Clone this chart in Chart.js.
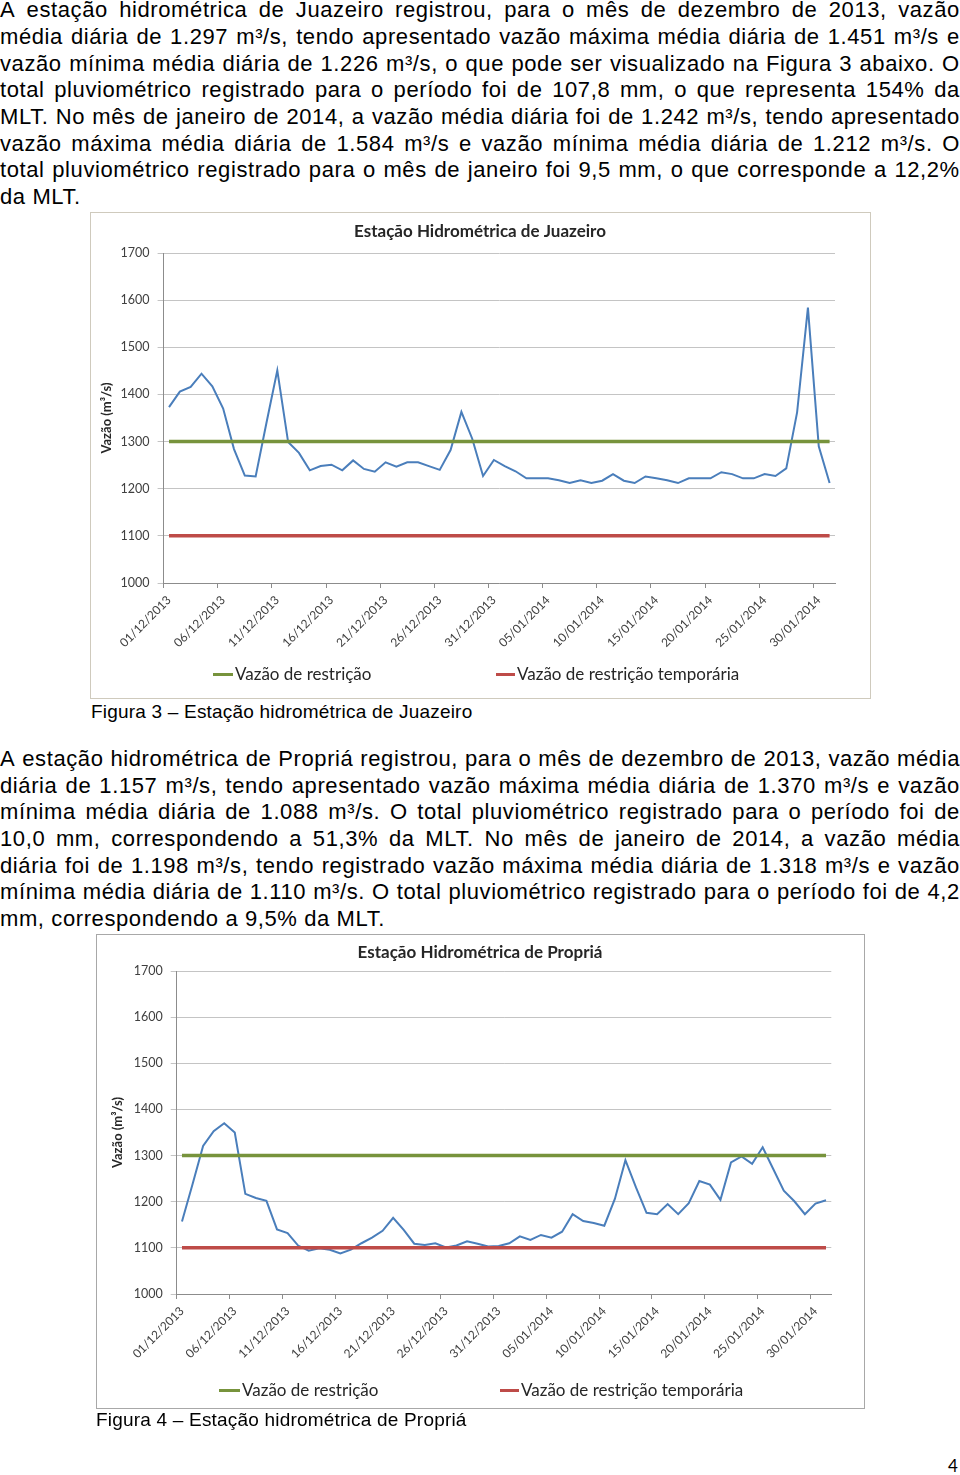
<!DOCTYPE html>
<html><head><meta charset="utf-8">
<script src="https://cdn.jsdelivr.net/npm/chart.js@4.4.1/dist/chart.umd.min.js"></script>
<style>
html,body{margin:0;padding:0;background:#fff;}
body{width:960px;height:1475px;position:relative;overflow:hidden;font-family:"Liberation Sans",Arial,sans-serif;color:#000;}
.para{position:absolute;left:0;width:960px;font-size:22px;letter-spacing:0.6px;line-height:26.7px;}
.ln{display:flex;justify-content:space-between;white-space:nowrap;height:26.7px;}
.ln.last{display:block;}
.cap{position:absolute;font-size:19px;letter-spacing:0.2px;line-height:22px;white-space:nowrap;}
.frame{position:absolute;box-sizing:border-box;pointer-events:none;}
canvas.ch{position:absolute;}
.leg{position:absolute;font-family:Lato,sans-serif;font-size:17px;line-height:20px;color:#262626;white-space:nowrap;}
.mk{position:absolute;height:3px;}
.pg{position:absolute;font-family:Lato,sans-serif;font-size:17px;line-height:17px;}
</style></head>
<body>
<div class="para" id="p1" style="top:-2.7px"></div>

<canvas class="ch" id="c1" width="780" height="486" style="left:90px;top:212px"></canvas>
<div class="frame" style="left:90px;top:212px;width:781px;height:487px;border:1px solid #cfcabd"></div>
<div class="mk" style="left:213px;top:673px;width:20px;background:#77933c"></div>
<div class="leg" style="left:235px;top:664px">Vazão de restrição</div>
<div class="mk" style="left:496px;top:673px;width:19px;background:#be4b48"></div>
<div class="leg" style="left:517px;top:664px">Vazão de restrição temporária</div>
<div class="cap" style="left:91px;top:701px">Figura 3 – Estação hidrométrica de Juazeiro</div>

<div class="para" id="p2" style="top:746px"></div>

<canvas class="ch" id="c2" width="768" height="474" style="left:96px;top:934px"></canvas>
<div class="frame" style="left:96px;top:934px;width:769px;height:475px;border:1px solid #a8a8a8"></div>
<div class="mk" style="left:219px;top:1389px;width:21px;background:#77933c"></div>
<div class="leg" style="left:242px;top:1380px">Vazão de restrição</div>
<div class="mk" style="left:500px;top:1389px;width:19px;background:#be4b48"></div>
<div class="leg" style="left:521px;top:1380px">Vazão de restrição temporária</div>
<div class="cap" style="left:96px;top:1409.4px">Figura 4 – Estação hidrométrica de Propriá</div>

<div class="pg" style="left:948px;top:1457px">4</div>

<script>
const paragrafo1 = [
  "A estação hidrométrica de Juazeiro registrou, para o mês de dezembro de 2013, vazão",
  "média diária de 1.297 m³/s, tendo apresentado vazão máxima média diária de 1.451 m³/s e",
  "vazão mínima média diária de 1.226 m³/s, o que pode ser visualizado na Figura 3 abaixo. O",
  "total pluviométrico registrado para o período foi de 107,8 mm, o que representa 154% da",
  "MLT. No mês de janeiro de 2014, a vazão média diária foi de 1.242 m³/s, tendo apresentado",
  "vazão máxima média diária de 1.584 m³/s e vazão mínima média diária de 1.212 m³/s. O",
  "total pluviométrico registrado para o mês de janeiro foi 9,5 mm, o que corresponde a 12,2%",
  "da MLT."
];
const paragrafo2 = [
  "A estação hidrométrica de Propriá registrou, para o mês de dezembro de 2013, vazão média",
  "diária de 1.157 m³/s, tendo apresentado vazão máxima média diária de 1.370 m³/s e vazão",
  "mínima média diária de 1.088 m³/s. O total pluviométrico registrado para o período foi de",
  "10,0 mm, correspondendo a 51,3% da MLT. No mês de janeiro de 2014, a vazão média",
  "diária foi de 1.198 m³/s, tendo registrado vazão máxima média diária de 1.318 m³/s e vazão",
  "mínima média diária de 1.110 m³/s. O total pluviométrico registrado para o período foi de 4,2",
  "mm, correspondendo a 9,5% da MLT."
];

const datas = [
  "01/12/2013","02/12/2013","03/12/2013","04/12/2013","05/12/2013","06/12/2013","07/12/2013","08/12/2013","09/12/2013","10/12/2013",
  "11/12/2013","12/12/2013","13/12/2013","14/12/2013","15/12/2013","16/12/2013","17/12/2013","18/12/2013","19/12/2013","20/12/2013",
  "21/12/2013","22/12/2013","23/12/2013","24/12/2013","25/12/2013","26/12/2013","27/12/2013","28/12/2013","29/12/2013","30/12/2013",
  "31/12/2013","01/01/2014","02/01/2014","03/01/2014","04/01/2014","05/01/2014","06/01/2014","07/01/2014","08/01/2014","09/01/2014",
  "10/01/2014","11/01/2014","12/01/2014","13/01/2014","14/01/2014","15/01/2014","16/01/2014","17/01/2014","18/01/2014","19/01/2014",
  "20/01/2014","21/01/2014","22/01/2014","23/01/2014","24/01/2014","25/01/2014","26/01/2014","27/01/2014","28/01/2014","29/01/2014",
  "30/01/2014","31/01/2014"
];

const juazeiroVazao = [
  1373,1406,1416,1444,1417,1370,1284,1228,1226,1340,
  1451,1299,1276,1239,1248,1251,1239,1260,1242,1236,
  1256,1247,1256,1256,1248,1240,1282,1363,1306,1227,
  1261,1248,1237,1222,1222,1222,1218,1212,1218,1212,
  1217,1231,1217,1212,1226,1222,1218,1212,1222,1222,
  1222,1235,1231,1222,1222,1231,1227,1243,1362,1584,
  1290,1212
];
const propriaVazao = [
  1157,1238,1321,1353,1370,1350,1217,1208,1202,1140,
  1132,1105,1094,1099,1096,1088,1096,1110,1122,1137,
  1165,1139,1109,1106,1110,1101,1105,1114,1109,1103,
  1104,1110,1125,1117,1128,1122,1135,1173,1158,1154,
  1148,1206,1290,1231,1176,1173,1195,1173,1197,1245,
  1237,1204,1285,1298,1282,1318,1271,1224,1201,1173,
  1196,1203
];
const vazaoRestricao = [
  1300,1300,1300,1300,1300,1300,1300,1300,1300,1300,
  1300,1300,1300,1300,1300,1300,1300,1300,1300,1300,
  1300,1300,1300,1300,1300,1300,1300,1300,1300,1300,
  1300,1300,1300,1300,1300,1300,1300,1300,1300,1300,
  1300,1300,1300,1300,1300,1300,1300,1300,1300,1300,
  1300,1300,1300,1300,1300,1300,1300,1300,1300,1300,
  1300,1300
];
const vazaoRestricaoTemporaria = [
  1100,1100,1100,1100,1100,1100,1100,1100,1100,1100,
  1100,1100,1100,1100,1100,1100,1100,1100,1100,1100,
  1100,1100,1100,1100,1100,1100,1100,1100,1100,1100,
  1100,1100,1100,1100,1100,1100,1100,1100,1100,1100,
  1100,1100,1100,1100,1100,1100,1100,1100,1100,1100,
  1100,1100,1100,1100,1100,1100,1100,1100,1100,1100,
  1100,1100
];
const yMin = 1000, yMax = 1700, yPasso = 100;
const nomesSeries = ["Vazão de restrição", "Vazão de restrição temporária", "Vazão"];

function fillPara(id, lines) {
  const el = document.getElementById(id);
  lines.forEach((t, i) => {
    const d = document.createElement('div');
    d.className = 'ln' + (i === lines.length - 1 ? ' last' : '');
    if (i === lines.length - 1) { d.textContent = t; }
    else {
      t.split(' ').forEach(w => { const s = document.createElement('span'); s.textContent = w; d.appendChild(s); });
    }
    el.appendChild(d);
  });
}
fillPara('p1', paragrafo1);
fillPara('p2', paragrafo2);

function build(id, title, vazao, L) {
  return new Chart(document.getElementById(id), {
    type: 'line',
    data: {
      labels: datas,
      datasets: [
        {label: nomesSeries[0], data: vazaoRestricao, borderColor: '#77933c', borderWidth: 3.5, pointRadius: 0, tension: 0},
        {label: nomesSeries[1], data: vazaoRestricaoTemporaria, borderColor: '#be4b48', borderWidth: 3.5, pointRadius: 0, tension: 0},
        {label: nomesSeries[2], data: vazao, borderColor: '#4a7ebb', borderWidth: 2, pointRadius: 0, tension: 0}
      ]
    },
    options: {
      responsive: false, animation: false, events: [],
      layout: {padding: {left: 0, right: 0, top: 0, bottom: L.padBottom}},
      plugins: {
        legend: {display: false},
        tooltip: {enabled: false},
        title: {display: true, text: title, color: '#262626',
          font: {family: 'Lato', size: 17, weight: 'bold', lineHeight: 1.2},
          padding: {top: L.titleTop, bottom: L.titleBottom}}
      },
      scales: {
        x: {
          type: 'category', offset: true,
          grid: {offset: true, drawOnChartArea: false, tickLength: 5,
            color: c => (c.index % 5 === 0 && c.index < 62) ? '#8c8c8c' : 'rgba(0,0,0,0)'},
          border: {color: '#8c8c8c'},
          ticks: {autoSkip: false, maxRotation: 45, minRotation: 45, padding: 5,
            font: {family: 'Lato', size: 12}, color: '#404040',
            callback: function (v, i) { return i % 5 === 0 ? this.getLabelForValue(v) : ''; }},
          afterFit: s => { s.height = 75; }
        },
        y: {
          min: yMin, max: yMax,
          ticks: {stepSize: yPasso, padding: 8, font: {family: 'Lato', size: 12.5}, color: '#404040',
            callback: v => String(v)},
          grid: {color: '#c4c4c4', tickLength: 6},
          border: {color: '#8c8c8c'},
          title: {display: true, text: 'Vazão (m³/s)', color: '#262626',
            font: {family: 'Lato', size: 13, weight: 'bold'}, padding: {top: L.yTitlePad, bottom: 0}},
          afterFit: s => { s.width = L.yWidth; }
        },
        margemDireita: {
          type: 'linear', position: 'right', display: true,
          grid: {display: false, drawTicks: false}, border: {display: false},
          ticks: {display: false},
          afterFit: s => { s.width = L.padRight; }
        }
      }
    }
  });
}

build('c1', 'Estação Hidrométrica de Juazeiro', juazeiroVazao,
  {padRight: 35, padBottom: 40, titleTop: 9.8, titleBottom: 10.8, yWidth: 73.6, yTitlePad: 9});
build('c2', 'Estação Hidrométrica de Propriá', propriaVazao,
  {padRight: 32.7, padBottom: 39, titleTop: 8.8, titleBottom: 7.8, yWidth: 80.7, yTitlePad: 14});
</script>
</body></html>
